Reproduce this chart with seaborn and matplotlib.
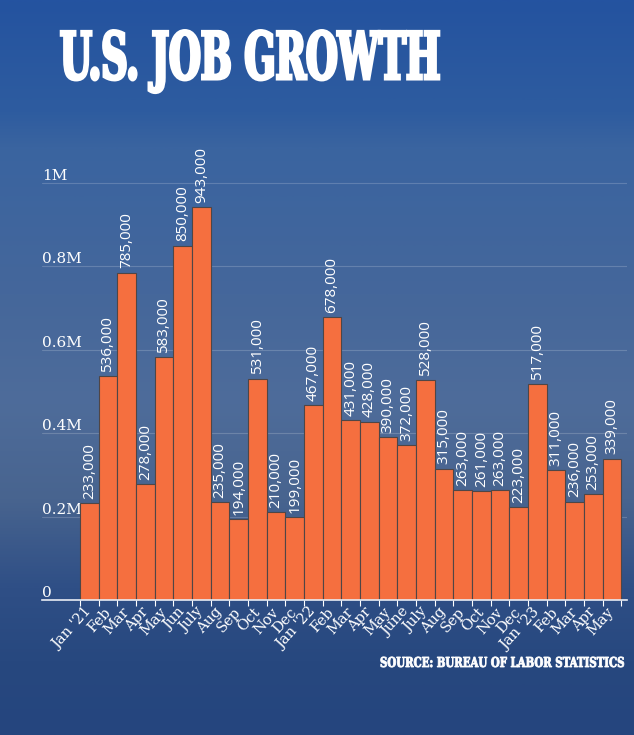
import numpy as np
import matplotlib
matplotlib.use("Agg")
import matplotlib.pyplot as plt
import seaborn as sns
from matplotlib.colors import LinearSegmentedColormap
from matplotlib.patheffects import AbstractPathEffect
from matplotlib.transforms import Affine2D

# Monthly payroll gains, Jan 2021 - May 2023
months = ["Jan '21", "Feb", "Mar", "Apr", "May", "Jun", "July", "Aug", "Sep", "Oct", "Nov", "Dec",
          "Jan '22", "Feb", "Mar", "Apr", "May", "June", "July", "Aug", "Sep", "Oct", "Nov", "Dec",
          "Jan '23", "Feb", "Mar", "Apr", "May"]
jobs = [233000, 536000, 785000, 278000, 583000, 850000, 943000, 235000, 194000, 531000, 210000, 199000,
        467000, 678000, 431000, 428000, 390000, 372000, 528000, 315000, 263000, 261000, 263000, 223000,
        517000, 311000, 236000, 253000, 339000]
y_ticks = [0, 200000, 400000, 600000, 800000, 1000000]
y_tick_labels = ["0", "0.2M", "0.4M", "0.6M", "0.8M", "1M"]

BAR = "#F56F3F"
W, H = 634, 735


class Squeeze(AbstractPathEffect):
    """Rescale glyphs around (x0, y0) in display px and thicken them - fakes a heavy condensed face."""
    def __init__(self, sx, sy, x0, y0, stroke=0.0):
        super().__init__()
        self.sx, self.sy, self.x0, self.y0, self.stroke = sx, sy, x0, y0, stroke

    def draw_path(self, renderer, gc, tpath, affine, rgbFace=None):
        t = affine + Affine2D().translate(-self.x0, -self.y0).scale(self.sx, self.sy).translate(self.x0, self.y0)
        gc0 = renderer.new_gc()
        gc0.copy_properties(gc)
        if self.stroke:
            gc0.set_linewidth(self.stroke)
            gc0.set_foreground(rgbFace)
            gc0.set_joinstyle("miter")
        renderer.draw_path(gc0, tpath, t, rgbFace)
        gc0.restore()


sns.set_style("white")
fig = plt.figure(figsize=(W / 100, H / 100), dpi=100)

# gradient backdrop
bg = fig.add_axes([0, 0, 1, 1], zorder=-1)
stops = [(0.0, "#2453A0"), (0.15, "#2E5C9F"), (0.2, "#3A64A0"), (0.4, "#45679B"),
         (0.55, "#4E6C9A"), (0.68, "#48648F"), (0.8, "#2F4F86"), (0.9, "#27487F"), (1.0, "#25457E")]
cmap = LinearSegmentedColormap.from_list("bg", stops)
bg.imshow(np.linspace(0, 1, 512)[:, None], aspect="auto", cmap=cmap, extent=[0, 1, 0, 1])
bg.set_axis_off()

ax = fig.add_axes([42 / W, 1 - 600 / H, 585 / W, 437.9 / H])
ax.set_facecolor("none")
sns.barplot(x=list(range(len(jobs))), y=jobs, color=BAR, saturation=1, width=1.0,
            edgecolor="#4f4646", linewidth=0.8, ax=ax)
ax.set_xlim(-2.54, 28.81)
ax.set_ylim(0, 1.05e6)

ax.bar_label(ax.containers[0], labels=[f"{v:,}" for v in jobs], rotation=90, padding=3,
             color="white", fontsize=11, family="Open Sans")

# axes styling
for s in ["top", "right", "left"]:
    ax.spines[s].set_visible(False)
ax.spines["bottom"].set_color("#e8ecf4")
ax.spines["bottom"].set_linewidth(1.2)
ax.set_axisbelow(True)
ax.yaxis.grid(True, color="white", alpha=0.18, linewidth=0.8)
ax.xaxis.grid(False)

ax.set_yticks(y_ticks)
ax.set_yticklabels(y_tick_labels, family="DejaVu Serif", fontsize=11, color="white")
ax.tick_params(axis="y", length=0, pad=0)
for lab in ax.get_yticklabels():
    lab.set_ha("left")
    lab.set_va("bottom")

ax.set_xticks(range(len(months)))
ax.set_xticklabels(months, rotation=48, ha="right", va="center", rotation_mode="anchor",
                   family="DejaVu Serif", fontsize=10.5, color="white")
ax.set_xticks(np.arange(-0.5, len(months)), minor=True)
ax.tick_params(axis="x", which="major", length=0, pad=7)
ax.tick_params(axis="x", which="minor", length=4, width=0.8, color="white", bottom=True)
ax.set_xlabel("")
ax.set_ylabel("")

# title and source, reshaped to look like a heavy condensed slab face
title = fig.text(60 / W, 1 - 79 / H, "U.S. JOB GROWTH", fontsize=28, fontweight="bold",
                 family="DejaVu Serif", color="white", ha="left", va="baseline")
source = fig.text(624 / W, 1 - 667 / H, "SOURCE: BUREAU OF LABOR STATISTICS", fontsize=9.9,
                  fontweight="bold", family="DejaVu Serif", color="white", ha="right", va="baseline")
fig.canvas.draw()
bb = title.get_window_extent()
title.set_path_effects([Squeeze(380 / bb.width, 47 / 28, bb.x0, 79 * 0 + (H - 79), stroke=2.2)])
bb = source.get_window_extent()
source.set_path_effects([Squeeze(244 / bb.width, 1.0, bb.x1, H - 667, stroke=0.6)])

fig.savefig("out.png", dpi=100)
